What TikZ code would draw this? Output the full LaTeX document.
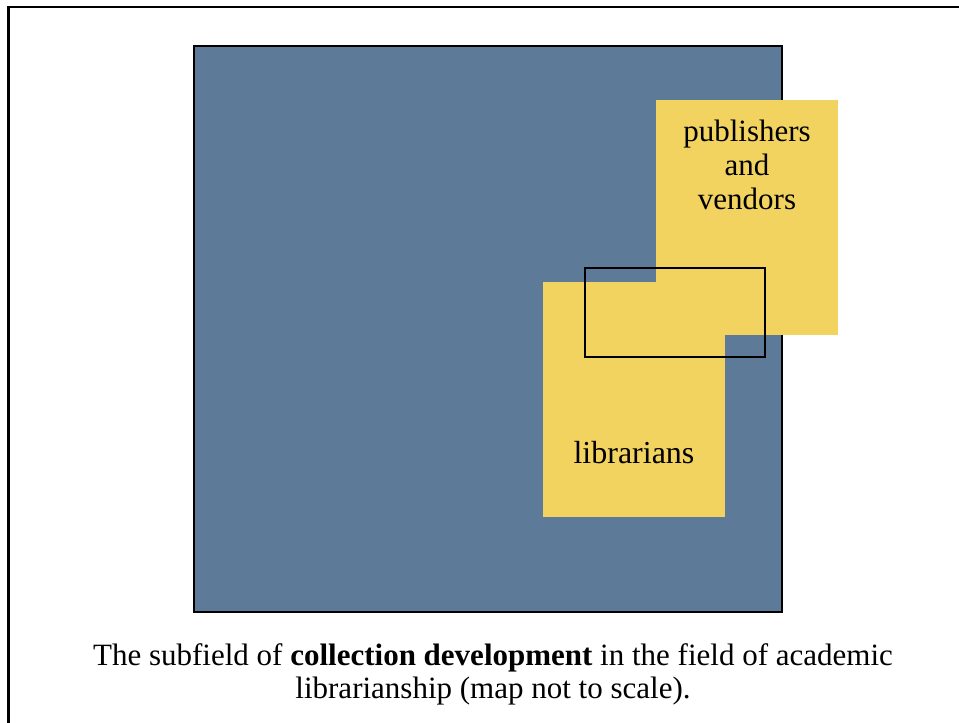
\documentclass[tikz,border=0pt]{standalone}
\usepackage{fontspec}
\setmainfont{Liberation Serif}
\definecolor{blu}{RGB}{94,122,153}
\definecolor{giallo}{RGB}{242,211,96}
\begin{document}
\begin{tikzpicture}[x=1pt,y=-1pt]
\useasboundingbox (0,0) rectangle (959,723);
\clip (0,0) rectangle (959,723);

% Cornice
\draw[line width=2.5pt] (8.5,7) rectangle (990,760);

% Campo (biblioteconomia accademica)
\draw[fill=blu,line width=2.6pt] (194,46) rectangle (782,612);

% Sottocampi
\fill[giallo] (656,100) rectangle (838,335);
\fill[giallo] (543,282) rectangle (725,517);

% Sviluppo delle collezioni
\draw[line width=2.8pt] (585,268) rectangle (765,357);

% Etichette
\node[align=center,font=\fontsize{31}{33.7}\selectfont,anchor=base] (E) at (747,209) {publishers\\and\\vendors};
\node[font=\fontsize{32}{34}\selectfont,anchor=base] (B) at (634,463) {librarians};

% Didascalia
\node[align=center,font=\fontsize{31}{33}\selectfont,anchor=base] (D) at (493,698)
  {The subfield of \textbf{collection development} in the field of academic\\librarianship (map not to scale).};

\end{tikzpicture}
\end{document}
